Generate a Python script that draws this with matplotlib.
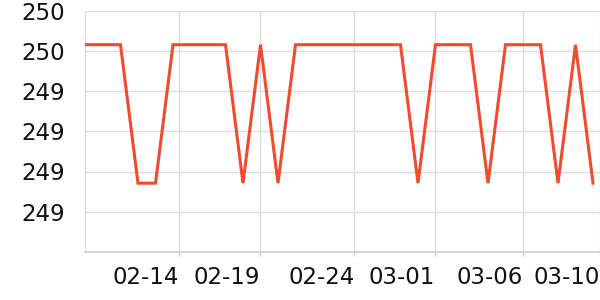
import matplotlib

matplotlib.use("Agg")
import matplotlib.pyplot as plt
import numpy as np

# daily readings, 02-09 .. 03-10
dates = [
    "02-09", "02-10", "02-11", "02-12", "02-13", "02-14", "02-15", "02-16",
    "02-17", "02-18", "02-19", "02-20", "02-21", "02-22", "02-23", "02-24",
    "02-25", "02-26", "02-27", "02-28", "03-01", "03-02", "03-03", "03-04",
    "03-05", "03-06", "03-07", "03-08", "03-09", "03-10",
]
values = [
    249.515, 249.515, 249.515, 249.171, 249.171, 249.515, 249.515, 249.515,
    249.515, 249.171, 249.515, 249.171, 249.515, 249.515, 249.515, 249.515,
    249.515, 249.515, 249.515, 249.171, 249.515, 249.515, 249.515, 249.171,
    249.515, 249.515, 249.515, 249.171, 249.515, 249.171,
]

x_tick_labels = ["02-14", "02-19", "02-24", "03-01", "03-06", "03-10"]
x_tick_pos = [5.36, 9.99, 15.36, 19.99, 25.02, 29.38]
y_ticks = [249.1, 249.2, 249.3, 249.4, 249.5, 249.6]
y_tick_labels = ["249", "249", "249", "249", "250", "250"]

LINE = "#ee4b2f"
GRID = "#dddddd"

fig = plt.figure(figsize=(6, 3), dpi=100)
ax = fig.add_axes([85.5 / 600, 1 - 252 / 300, 1 - 85.5 / 600, (252 - 10.5) / 300])

x = np.arange(len(values))
ax.plot(x, values, color=LINE, lw=2.2, solid_joinstyle="miter", zorder=3)

ax.set_xlim(0, 29.4)
ax.set_ylim(249.0, 249.6)

ax.set_yticks(y_ticks)
ax.set_yticklabels(y_tick_labels)
ax.set_xticks(x_tick_pos)
ax.set_xticklabels(x_tick_labels, ha="right")

ax.grid(True, color=GRID, lw=1, zorder=0)
ax.set_axisbelow(True)

for side in ["top", "right"]:
    ax.spines[side].set_visible(False)
ax.spines["left"].set_color(GRID)
ax.spines["bottom"].set_color("#cccccc")
ax.spines["bottom"].set_linewidth(1.2)

ax.tick_params(axis="y", length=0, pad=14.5, labelsize=16.5, labelcolor="#111111")
ax.tick_params(axis="x", length=3, width=1, color="#cccccc", pad=7,
               labelsize=16.5, labelcolor="#111111")

fig.savefig("out.png", dpi=100)
plt.close(fig)
